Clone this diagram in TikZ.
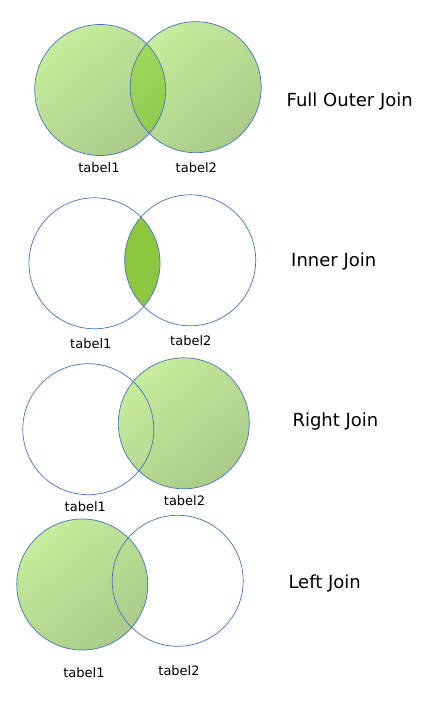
\documentclass[tikz,border=0pt]{standalone}
\usepackage{fontspec}
\setmainfont{DejaVu Sans}
\definecolor{edgeblue}{RGB}{72,114,190}
\definecolor{glight}{RGB}{198,236,156}
\definecolor{gdark}{RGB}{168,204,136}
\definecolor{ilight}{RGB}{160,216,92}
\definecolor{idark}{RGB}{130,190,66}
\definecolor{isolid}{RGB}{141,198,63}
\begin{document}
\begin{tikzpicture}[x=1pt,y=-1pt,
  ring/.style={draw=edgeblue,line width=0.7pt},
  greenfill/.style={shading=axis,top color=glight,bottom color=gdark,shading angle=40},
  darkfill/.style={shading=axis,top color=ilight,bottom color=idark,shading angle=40},
  tlabel/.style={anchor=base,font=\fontsize{13}{15}\selectfont,inner sep=0pt},
  title/.style={anchor=base west,font=\fontsize{18}{21}\selectfont,inner sep=0pt}]
\useasboundingbox (0,0) rectangle (440,719);
\def\r{65.5}
% Panel 1: Full Outer Join
\coordinate (a1) at (100.2,90);
\coordinate (b1) at (195.7,87.2);
\shade[greenfill] (a1) circle[radius=\r];
\shade[greenfill] (b1) circle[radius=\r];
\begin{scope}
  \clip (a1) circle[radius=\r];
  \shade[darkfill] (b1) circle[radius=\r];
\end{scope}
\draw[ring] (a1) circle[radius=\r];
\draw[ring] (b1) circle[radius=\r];
\node[tlabel] (p1t1) at (99,173) {tabel1};
\node[tlabel] (p1t2) at (196.3,173) {tabel2};
\node[title] (p1title) at (286.5,106.5) {Full Outer Join};
% Panel 2: Inner Join
\coordinate (a2) at (94.5,263.3);
\coordinate (b2) at (190.2,260.3);
\begin{scope}
  \clip (a2) circle[radius=\r];
  \fill[isolid] (b2) circle[radius=\r];
\end{scope}
\draw[ring] (a2) circle[radius=\r];
\draw[ring] (b2) circle[radius=\r];
\node[tlabel] (p2t1) at (90.8,348) {tabel1};
\node[tlabel] (p2t2) at (190.8,345.5) {tabel2};
\node[title] (p2title) at (291,266.5) {Inner Join};
% Panel 3: Right Join
\coordinate (a3) at (88.3,429.2);
\coordinate (b3) at (183.8,423.3);
\shade[greenfill] (b3) circle[radius=\r];
\draw[ring] (a3) circle[radius=\r];
\draw[ring] (b3) circle[radius=\r];
\node[tlabel] (p3t1) at (85.3,511.5) {tabel1};
\node[tlabel] (p3t2) at (184.5,505.5) {tabel2};
\node[title] (p3title) at (292.3,426) {Right Join};
% Panel 4: Left Join
\coordinate (a4) at (82.3,584.5);
\coordinate (b4) at (177.7,580.8);
\shade[greenfill] (a4) circle[radius=\r];
\draw[ring] (a4) circle[radius=\r];
\draw[ring] (b4) circle[radius=\r];
\node[tlabel] (p4t1) at (84,677.5) {tabel1};
\node[tlabel] (p4t2) at (179,675.5) {tabel2};
\node[title] (p4title) at (288.3,588) {Left Join};
\end{tikzpicture}
\end{document}
